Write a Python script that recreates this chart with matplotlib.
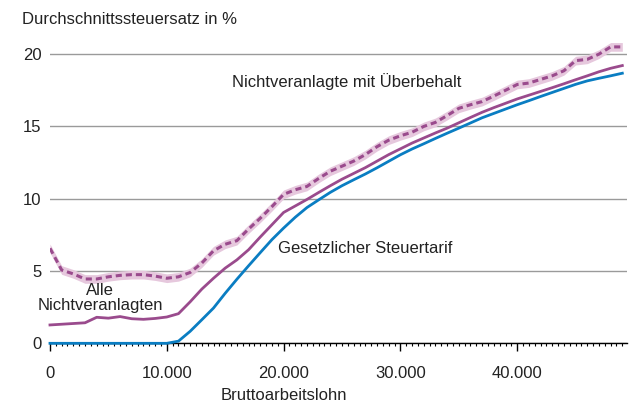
#!/usr/bin/env python
"""Durchschnittssteuersatz nach Bruttoarbeitslohn (Nichtveranlagte vs. Tarif)."""
import matplotlib
matplotlib.use("Agg")
import matplotlib.pyplot as plt
from matplotlib.ticker import MultipleLocator, FuncFormatter

plt.rcParams["font.family"] = ["Liberation Sans", "DejaVu Sans"]

# Bruttoarbeitslohn in Euro, 1.000er Schritte
lohn = [k * 1000 for k in range(50)]

# Gesetzlicher Steuertarif
tarif = [0, 0, 0, 0, 0, 0, 0, 0, 0, 0,
         0, 0.15, 0.83, 1.63, 2.44, 3.46, 4.43, 5.36, 6.27, 7.17,
         7.97, 8.72, 9.39, 9.92, 10.44, 10.9, 11.31, 11.71, 12.14, 12.59,
         13.04, 13.44, 13.8, 14.17, 14.53, 14.88, 15.24, 15.6, 15.9, 16.2,
         16.5, 16.78, 17.07, 17.35, 17.63, 17.91, 18.15, 18.33, 18.5, 18.68]

# Alle Nichtveranlagten
alle = [1.27, 1.32, 1.37, 1.42, 1.80, 1.74, 1.85, 1.70, 1.66, 1.72,
        1.82, 2.05, 2.87, 3.75, 4.5, 5.2, 5.77, 6.47, 7.35, 8.2,
        9.05, 9.5, 9.95, 10.43, 10.9, 11.35, 11.75, 12.15, 12.6, 13.05,
        13.45, 13.85, 14.2, 14.55, 14.88, 15.25, 15.62, 15.98, 16.3, 16.6,
        16.9, 17.16, 17.42, 17.68, 17.95, 18.23, 18.5, 18.78, 19.02, 19.21]

# Nichtveranlagte mit Ueberbehalt
ueberbehalt = [6.57, 5.07, 4.8, 4.45, 4.45, 4.6, 4.7, 4.75, 4.75, 4.65,
               4.5, 4.6, 4.9, 5.55, 6.4, 6.85, 7.1, 7.9, 8.65, 9.45,
               10.3, 10.62, 10.85, 11.4, 11.9, 12.25, 12.6, 13.05, 13.6, 14.05,
               14.35, 14.6, 15.0, 15.28, 15.75, 16.25, 16.5, 16.72, 17.1, 17.5,
               17.9, 18.0, 18.25, 18.5, 18.85, 19.55, 19.64, 20.0, 20.5, 20.5]
band_halbe_breite = 0.3

BLUE = "#0a7dc2"
PURPLE = "#9a4b8d"
PINK = "#e6c8dd"
TEXT = "#222222"

fig = plt.figure(figsize=(6.35, 4.04), dpi=100)
ax = fig.add_axes([0.0787, 0.1502, 0.9087, 0.7516])

lower = [v - band_halbe_breite for v in ueberbehalt]
upper = [v + band_halbe_breite for v in ueberbehalt]
ax.fill_between(lohn, lower, upper, color=PINK, lw=0, zorder=2)
ax.plot(lohn, ueberbehalt, color=PURPLE, lw=2.2, dashes=(2.0, 1.3), zorder=3)
ax.plot(lohn, alle, color=PURPLE, lw=2.0, zorder=3, clip_on=False)
ax.plot(lohn, tarif, color=BLUE, lw=2.0, zorder=4, clip_on=False)

ax.set_xlim(0, 49400)
ax.set_ylim(0, 21)

ax.set_yticks([0, 5, 10, 15, 20])
ax.yaxis.grid(True, color="#9a9a9a", lw=1.0)
ax.set_axisbelow(True)
ax.tick_params(axis="y", length=0, pad=6, labelsize=12, labelcolor=TEXT)

ax.set_xticks([0, 10000, 20000, 30000, 40000])
ax.xaxis.set_minor_locator(MultipleLocator(500))
ax.xaxis.set_major_formatter(FuncFormatter(lambda v, p: f"{int(v):,}".replace(",", ".")))
ax.tick_params(axis="x", which="major", length=6, width=1, pad=10,
               labelsize=12, labelcolor=TEXT, direction="out")
ax.tick_params(axis="x", which="minor", length=2.5, width=0.8, direction="out")

for side in ("top", "right", "left"):
    ax.spines[side].set_visible(False)
ax.spines["bottom"].set_linewidth(1.0)
ax.spines["bottom"].set_zorder(1)

ax.text(15580, 18.09, "Nichtveranlagte mit Überbehalt", fontsize=12,
        color=TEXT, ha="left", va="center")
ax.text(19510, 6.57, "Gesetzlicher Steuertarif", fontsize=12,
        color=TEXT, ha="left", va="center")
ax.text(4280, 3.13, "Alle\nNichtveranlagten", fontsize=12, color=TEXT,
        ha="center", va="center", linespacing=0.95)

fig.text(22 / 635, 1 - 20 / 404, "Durchschnittssteuersatz in %", fontsize=12,
         color=TEXT, ha="left", va="center")
fig.text(284 / 635, 1 - 396 / 404, "Bruttoarbeitslohn", fontsize=12,
         color=TEXT, ha="center", va="center")

fig.savefig("out.png", dpi=100)
